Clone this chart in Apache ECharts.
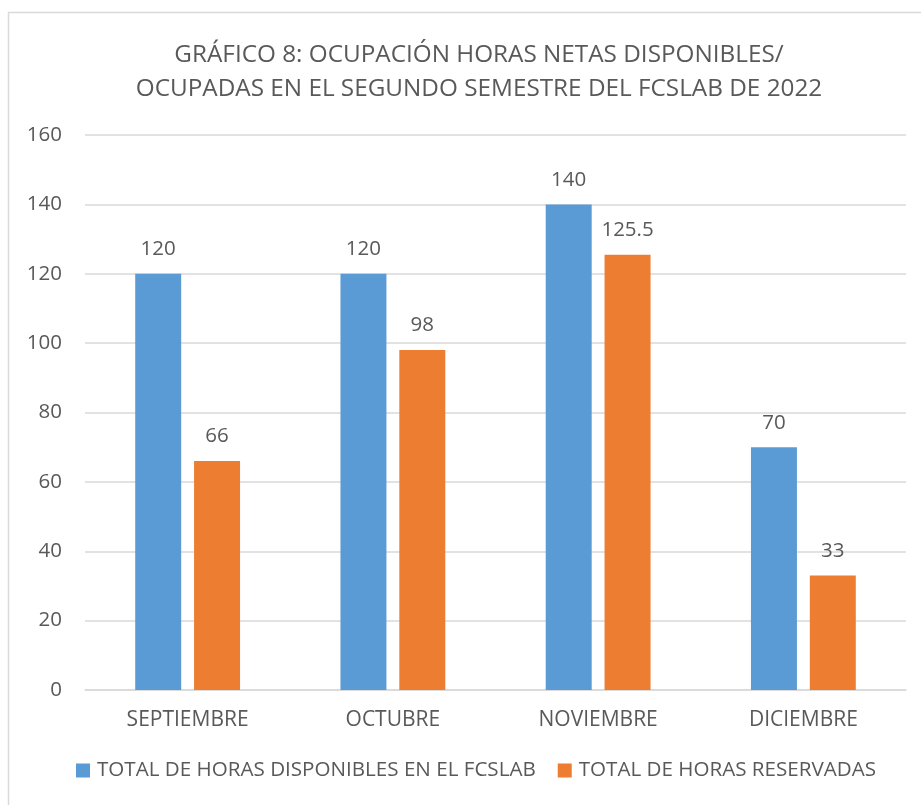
<!DOCTYPE html>
<html>
<head>
<meta charset="utf-8">
<script src="https://cdn.jsdelivr.net/npm/echarts@6/dist/echarts.min.js"></script>
<style>
  html, body { margin: 0; padding: 0; background: #fff; }
  #chart { width: 921px; height: 805px; }
</style>
</head>
<body>
<div id="chart"></div>
<script>
// datos del gráfico
const categorias = ["SEPTIEMBRE", "OCTUBRE", "NOVIEMBRE", "DICIEMBRE"];
const horasDisponibles = [120, 120, 140, 70];
const horasReservadas = [66, 98, 125.5, 33];
const nombresSeries = ["TOTAL DE HORAS DISPONIBLES EN EL FCSLAB", "TOTAL DE HORAS RESERVADAS"];
const titulo = "GRÁFICO 8: OCUPACIÓN HORAS NETAS DISPONIBLES/\nOCUPADAS EN EL SEGUNDO SEMESTRE DEL FCSLAB DE 2022";

const fuente = "'Open Sans', 'Noto Sans', sans-serif";
const gris = "#595959";

const chart = echarts.init(document.getElementById("chart"));

// etiqueta encima de cada barra
const etiqueta = {
  show: true,
  position: "top",
  distance: 14,
  color: gris,
  fontSize: 20.5,
  fontFamily: fuente
};

chart.setOption({
  animation: false,
  textStyle: { fontFamily: fuente },
  graphic: [{
    type: "rect",
    shape: { x: 8.5, y: 12.5, width: 1000, height: 1000 },
    style: { fill: "none", stroke: "#D9D9D9", lineWidth: 1.5 },
    silent: true
  }],
  title: {
    text: titulo,
    left: 474,
    top: 33,
    textAlign: "center",
    textStyle: {
      color: gris,
      fontSize: 24.3,
      fontWeight: "normal",
      fontFamily: fuente,
      lineHeight: 34
    }
  },
  legend: {
    bottom: 24,
    left: 76,
    padding: 0,
    icon: "rect",
    itemWidth: 14,
    itemHeight: 14,
    itemGap: 22,
    textStyle: { color: gris, fontSize: 20.6, fontFamily: fuente, padding: [0, 0, 0, 2] },
    data: nombresSeries
  },
  grid: { left: 85, right: 15, top: 135, bottom: 115, containLabel: false },
  xAxis: {
    type: "category",
    data: categorias,
    axisLine: { lineStyle: { color: "#D9D9D9", width: 1.5 } },
    axisTick: { show: false },
    axisLabel: { color: gris, fontSize: 21, margin: 20, fontFamily: fuente }
  },
  yAxis: {
    type: "value",
    min: 0,
    max: 160,
    interval: 20,
    axisLine: { show: false },
    axisTick: { show: false },
    axisLabel: { color: gris, fontSize: 20.5, margin: 23, fontFamily: fuente },
    splitLine: { lineStyle: { color: "#D9D9D9", width: 1.5 } }
  },
  series: [
    {
      name: nombresSeries[0],
      type: "bar",
      data: horasDisponibles,
      barWidth: "22.4%",
      barGap: "28%",
      itemStyle: { color: "#5B9BD5" },
      label: etiqueta
    },
    {
      name: nombresSeries[1],
      type: "bar",
      data: horasReservadas,
      barWidth: "22.4%",
      itemStyle: { color: "#ED7D31" },
      label: etiqueta
    }
  ]
});
</script>
</body>
</html>
